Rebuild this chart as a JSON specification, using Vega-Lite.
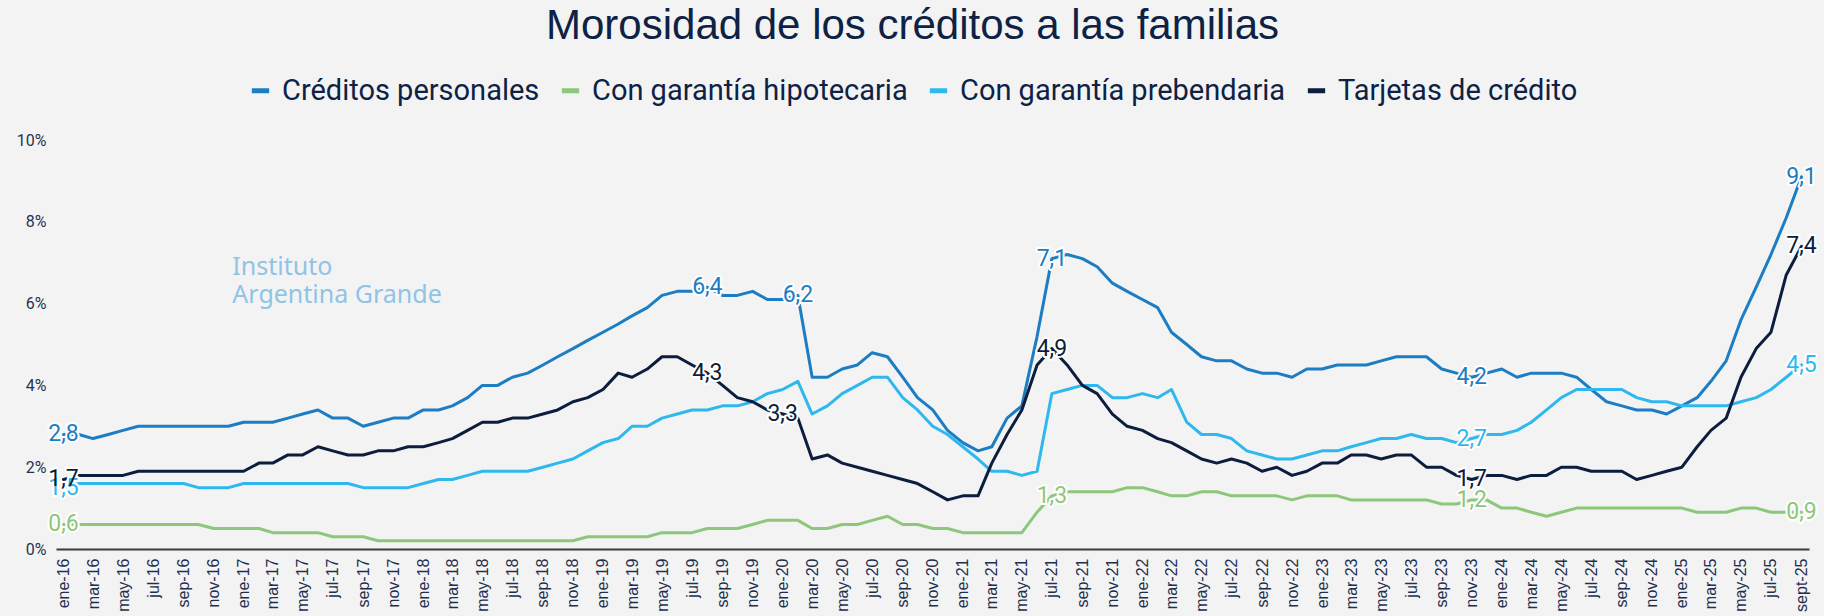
{
  "$schema": "https://vega.github.io/schema/vega-lite/v6.json",
  "width": 1753,
  "height": 409,
  "autosize": {"type": "none"},
  "padding": {"left": 56, "right": 15, "top": 140, "bottom": 67},
  "background": "#f3f3f3",
  "title": {
    "text": "Morosidad de los créditos a las familias",
    "font": "Liberation Sans",
    "fontSize": 42,
    "fontWeight": "normal",
    "color": "#0d2244",
    "anchor": "middle",
    "frame": "group",
    "dx": -20,
    "offset": 28
  },
  "config": {"view": {"stroke": null}},
  "datasets": {
    "serie": [
      {"m":"2016-01-01","p":2.8,"h":0.6,"r":1.5,"t":1.7},
      {"m":"2016-02-01","p":2.8,"h":0.6,"r":1.6,"t":1.8},
      {"m":"2016-03-01","p":2.7,"h":0.6,"r":1.6,"t":1.8},
      {"m":"2016-04-01","p":2.8,"h":0.6,"r":1.6,"t":1.8},
      {"m":"2016-05-01","p":2.9,"h":0.6,"r":1.6,"t":1.8},
      {"m":"2016-06-01","p":3.0,"h":0.6,"r":1.6,"t":1.9},
      {"m":"2016-07-01","p":3.0,"h":0.6,"r":1.6,"t":1.9},
      {"m":"2016-08-01","p":3.0,"h":0.6,"r":1.6,"t":1.9},
      {"m":"2016-09-01","p":3.0,"h":0.6,"r":1.6,"t":1.9},
      {"m":"2016-10-01","p":3.0,"h":0.6,"r":1.5,"t":1.9},
      {"m":"2016-11-01","p":3.0,"h":0.5,"r":1.5,"t":1.9},
      {"m":"2016-12-01","p":3.0,"h":0.5,"r":1.5,"t":1.9},
      {"m":"2017-01-01","p":3.1,"h":0.5,"r":1.6,"t":1.9},
      {"m":"2017-02-01","p":3.1,"h":0.5,"r":1.6,"t":2.1},
      {"m":"2017-03-01","p":3.1,"h":0.4,"r":1.6,"t":2.1},
      {"m":"2017-04-01","p":3.2,"h":0.4,"r":1.6,"t":2.3},
      {"m":"2017-05-01","p":3.3,"h":0.4,"r":1.6,"t":2.3},
      {"m":"2017-06-01","p":3.4,"h":0.4,"r":1.6,"t":2.5},
      {"m":"2017-07-01","p":3.2,"h":0.3,"r":1.6,"t":2.4},
      {"m":"2017-08-01","p":3.2,"h":0.3,"r":1.6,"t":2.3},
      {"m":"2017-09-01","p":3.0,"h":0.3,"r":1.5,"t":2.3},
      {"m":"2017-10-01","p":3.1,"h":0.2,"r":1.5,"t":2.4},
      {"m":"2017-11-01","p":3.2,"h":0.2,"r":1.5,"t":2.4},
      {"m":"2017-12-01","p":3.2,"h":0.2,"r":1.5,"t":2.5},
      {"m":"2018-01-01","p":3.4,"h":0.2,"r":1.6,"t":2.5},
      {"m":"2018-02-01","p":3.4,"h":0.2,"r":1.7,"t":2.6},
      {"m":"2018-03-01","p":3.5,"h":0.2,"r":1.7,"t":2.7},
      {"m":"2018-04-01","p":3.7,"h":0.2,"r":1.8,"t":2.9},
      {"m":"2018-05-01","p":4.0,"h":0.2,"r":1.9,"t":3.1},
      {"m":"2018-06-01","p":4.0,"h":0.2,"r":1.9,"t":3.1},
      {"m":"2018-07-01","p":4.2,"h":0.2,"r":1.9,"t":3.2},
      {"m":"2018-08-01","p":4.3,"h":0.2,"r":1.9,"t":3.2},
      {"m":"2018-09-01","p":4.5,"h":0.2,"r":2.0,"t":3.3},
      {"m":"2018-10-01","p":4.7,"h":0.2,"r":2.1,"t":3.4},
      {"m":"2018-11-01","p":4.9,"h":0.2,"r":2.2,"t":3.6},
      {"m":"2018-12-01","p":5.1,"h":0.3,"r":2.4,"t":3.7},
      {"m":"2019-01-01","p":5.3,"h":0.3,"r":2.6,"t":3.9},
      {"m":"2019-02-01","p":5.5,"h":0.3,"r":2.7,"t":4.3},
      {"m":"2019-03-01","p":5.7,"h":0.3,"r":3.0,"t":4.2},
      {"m":"2019-04-01","p":5.9,"h":0.3,"r":3.0,"t":4.4},
      {"m":"2019-05-01","p":6.2,"h":0.4,"r":3.2,"t":4.7},
      {"m":"2019-06-01","p":6.3,"h":0.4,"r":3.3,"t":4.7},
      {"m":"2019-07-01","p":6.3,"h":0.4,"r":3.4,"t":4.5},
      {"m":"2019-08-01","p":6.4,"h":0.5,"r":3.4,"t":4.3},
      {"m":"2019-09-01","p":6.2,"h":0.5,"r":3.5,"t":4.0},
      {"m":"2019-10-01","p":6.2,"h":0.5,"r":3.5,"t":3.7},
      {"m":"2019-11-01","p":6.3,"h":0.6,"r":3.6,"t":3.6},
      {"m":"2019-12-01","p":6.1,"h":0.7,"r":3.8,"t":3.4},
      {"m":"2020-01-01","p":6.1,"h":0.7,"r":3.9,"t":3.3},
      {"m":"2020-02-01","p":6.2,"h":0.7,"r":4.1,"t":3.2},
      {"m":"2020-03-01","p":4.2,"h":0.5,"r":3.3,"t":2.2},
      {"m":"2020-04-01","p":4.2,"h":0.5,"r":3.5,"t":2.3},
      {"m":"2020-05-01","p":4.4,"h":0.6,"r":3.8,"t":2.1},
      {"m":"2020-06-01","p":4.5,"h":0.6,"r":4.0,"t":2.0},
      {"m":"2020-07-01","p":4.8,"h":0.7,"r":4.2,"t":1.9},
      {"m":"2020-08-01","p":4.7,"h":0.8,"r":4.2,"t":1.8},
      {"m":"2020-09-01","p":4.2,"h":0.6,"r":3.7,"t":1.7},
      {"m":"2020-10-01","p":3.7,"h":0.6,"r":3.4,"t":1.6},
      {"m":"2020-11-01","p":3.4,"h":0.5,"r":3.0,"t":1.4},
      {"m":"2020-12-01","p":2.9,"h":0.5,"r":2.8,"t":1.2},
      {"m":"2021-01-01","p":2.6,"h":0.4,"r":2.5,"t":1.3},
      {"m":"2021-02-01","p":2.4,"h":0.4,"r":2.2,"t":1.3},
      {"m":"2021-03-01","p":2.5,"h":0.4,"r":1.9,"t":2.1},
      {"m":"2021-04-01","p":3.2,"h":0.4,"r":1.9,"t":2.8},
      {"m":"2021-05-01","p":3.5,"h":0.4,"r":1.8,"t":3.4},
      {"m":"2021-06-01","p":5.2,"h":0.9,"r":1.9,"t":4.5},
      {"m":"2021-07-01","p":7.1,"h":1.3,"r":3.8,"t":4.9},
      {"m":"2021-08-01","p":7.2,"h":1.4,"r":3.9,"t":4.5},
      {"m":"2021-09-01","p":7.1,"h":1.4,"r":4.0,"t":4.0},
      {"m":"2021-10-01","p":6.9,"h":1.4,"r":4.0,"t":3.8},
      {"m":"2021-11-01","p":6.5,"h":1.4,"r":3.7,"t":3.3},
      {"m":"2021-12-01","p":6.3,"h":1.5,"r":3.7,"t":3.0},
      {"m":"2022-01-01","p":6.1,"h":1.5,"r":3.8,"t":2.9},
      {"m":"2022-02-01","p":5.9,"h":1.4,"r":3.7,"t":2.7},
      {"m":"2022-03-01","p":5.3,"h":1.3,"r":3.9,"t":2.6},
      {"m":"2022-04-01","p":5.0,"h":1.3,"r":3.1,"t":2.4},
      {"m":"2022-05-01","p":4.7,"h":1.4,"r":2.8,"t":2.2},
      {"m":"2022-06-01","p":4.6,"h":1.4,"r":2.8,"t":2.1},
      {"m":"2022-07-01","p":4.6,"h":1.3,"r":2.7,"t":2.2},
      {"m":"2022-08-01","p":4.4,"h":1.3,"r":2.4,"t":2.1},
      {"m":"2022-09-01","p":4.3,"h":1.3,"r":2.3,"t":1.9},
      {"m":"2022-10-01","p":4.3,"h":1.3,"r":2.2,"t":2.0},
      {"m":"2022-11-01","p":4.2,"h":1.2,"r":2.2,"t":1.8},
      {"m":"2022-12-01","p":4.4,"h":1.3,"r":2.3,"t":1.9},
      {"m":"2023-01-01","p":4.4,"h":1.3,"r":2.4,"t":2.1},
      {"m":"2023-02-01","p":4.5,"h":1.3,"r":2.4,"t":2.1},
      {"m":"2023-03-01","p":4.5,"h":1.2,"r":2.5,"t":2.3},
      {"m":"2023-04-01","p":4.5,"h":1.2,"r":2.6,"t":2.3},
      {"m":"2023-05-01","p":4.6,"h":1.2,"r":2.7,"t":2.2},
      {"m":"2023-06-01","p":4.7,"h":1.2,"r":2.7,"t":2.3},
      {"m":"2023-07-01","p":4.7,"h":1.2,"r":2.8,"t":2.3},
      {"m":"2023-08-01","p":4.7,"h":1.2,"r":2.7,"t":2.0},
      {"m":"2023-09-01","p":4.4,"h":1.1,"r":2.7,"t":2.0},
      {"m":"2023-10-01","p":4.3,"h":1.1,"r":2.6,"t":1.8},
      {"m":"2023-11-01","p":4.2,"h":1.2,"r":2.7,"t":1.7},
      {"m":"2023-12-01","p":4.3,"h":1.2,"r":2.8,"t":1.8},
      {"m":"2024-01-01","p":4.4,"h":1.0,"r":2.8,"t":1.8},
      {"m":"2024-02-01","p":4.2,"h":1.0,"r":2.9,"t":1.7},
      {"m":"2024-03-01","p":4.3,"h":0.9,"r":3.1,"t":1.8},
      {"m":"2024-04-01","p":4.3,"h":0.8,"r":3.4,"t":1.8},
      {"m":"2024-05-01","p":4.3,"h":0.9,"r":3.7,"t":2.0},
      {"m":"2024-06-01","p":4.2,"h":1.0,"r":3.9,"t":2.0},
      {"m":"2024-07-01","p":3.9,"h":1.0,"r":3.9,"t":1.9},
      {"m":"2024-08-01","p":3.6,"h":1.0,"r":3.9,"t":1.9},
      {"m":"2024-09-01","p":3.5,"h":1.0,"r":3.9,"t":1.9},
      {"m":"2024-10-01","p":3.4,"h":1.0,"r":3.7,"t":1.7},
      {"m":"2024-11-01","p":3.4,"h":1.0,"r":3.6,"t":1.8},
      {"m":"2024-12-01","p":3.3,"h":1.0,"r":3.6,"t":1.9},
      {"m":"2025-01-01","p":3.5,"h":1.0,"r":3.5,"t":2.0},
      {"m":"2025-02-01","p":3.7,"h":0.9,"r":3.5,"t":2.5},
      {"m":"2025-03-01","p":4.1,"h":0.9,"r":3.5,"t":2.9},
      {"m":"2025-04-01","p":4.6,"h":0.9,"r":3.5,"t":3.2},
      {"m":"2025-05-01","p":5.6,"h":1.0,"r":3.6,"t":4.2},
      {"m":"2025-06-01","p":6.4,"h":1.0,"r":3.7,"t":4.9},
      {"m":"2025-07-01","p":7.2,"h":0.9,"r":3.9,"t":5.3},
      {"m":"2025-08-01","p":8.1,"h":0.9,"r":4.2,"t":6.7},
      {"m":"2025-09-01","p":9.1,"h":0.9,"r":4.5,"t":7.4}
    ],
    "etiquetas": [
      {"m":"2016-01-01","s":"Créditos personales","v":2.8,"t":"2,8"},
      {"m":"2016-01-01","s":"Con garantía hipotecaria","v":0.6,"t":"0,6"},
      {"m":"2016-01-01","s":"Con garantía prebendaria","v":1.5,"t":"1,5"},
      {"m":"2016-01-01","s":"Tarjetas de crédito","v":1.7,"t":"1,7"},
      {"m":"2019-08-01","s":"Créditos personales","v":6.4,"t":"6,4"},
      {"m":"2019-08-01","s":"Tarjetas de crédito","v":4.3,"t":"4,3"},
      {"m":"2020-01-01","s":"Tarjetas de crédito","v":3.3,"t":"3,3"},
      {"m":"2020-02-01","s":"Créditos personales","v":6.2,"t":"6,2"},
      {"m":"2021-07-01","s":"Créditos personales","v":7.1,"t":"7,1"},
      {"m":"2021-07-01","s":"Tarjetas de crédito","v":4.9,"t":"4,9"},
      {"m":"2021-07-01","s":"Con garantía hipotecaria","v":1.3,"t":"1,3"},
      {"m":"2023-11-01","s":"Créditos personales","v":4.2,"t":"4,2"},
      {"m":"2023-11-01","s":"Con garantía prebendaria","v":2.7,"t":"2,7"},
      {"m":"2023-11-01","s":"Tarjetas de crédito","v":1.7,"t":"1,7"},
      {"m":"2023-11-01","s":"Con garantía hipotecaria","v":1.2,"t":"1,2"},
      {"m":"2025-09-01","s":"Créditos personales","v":9.1,"t":"9,1"},
      {"m":"2025-09-01","s":"Tarjetas de crédito","v":7.4,"t":"7,4"},
      {"m":"2025-09-01","s":"Con garantía prebendaria","v":4.5,"t":"4,5"},
      {"m":"2025-09-01","s":"Con garantía hipotecaria","v":0.9,"t":"0,9"}
    ]
  },
  "layer": [
    {
      "data": {"values": [{}]},
      "mark": {"type": "text", "text": ["Instituto", "Argentina Grande"], "lineHeight": 28, "align": "left", "baseline": "alphabetic", "font": "Noto Sans", "fontSize": 25, "color": "#8ec4e6"},
      "encoding": {
        "x": {"datum": {"year": 2016, "month": 12, "date": 9, "utc": true}, "type": "temporal"},
        "y": {"datum": 6.71, "type": "quantitative"}
      }
    },
    {
      "data": {"name": "serie"},
      "transform": [
        {"fold": ["p", "h", "r", "t"], "as": ["k", "v"]},
        {"calculate": "datum.k == 'p' ? 'Créditos personales' : datum.k == 'h' ? 'Con garantía hipotecaria' : datum.k == 'r' ? 'Con garantía prebendaria' : 'Tarjetas de crédito'", "as": "s"}
      ],
      "mark": {"type": "line", "strokeWidth": 3, "strokeJoin": "round", "strokeCap": "round"},
      "encoding": {
        "x": {
          "field": "m", "type": "temporal",
          "scale": {"type": "utc", "domain": [{"year": 2015, "month": 12, "date": 16, "hours": 18, "utc": true}, {"year": 2025, "month": 9, "date": 16, "hours": 6, "utc": true}], "nice": false},
          "axis": {
            "title": null,
            "tickCount": {"interval": "month", "step": 2},
            "labelExpr": "(utcyear(datum.value) == 2025 && utcmonth(datum.value) == 8 ? 'sept' : ['ene','feb','mar','abr','may','jun','jul','ago','sep','oct','nov','dic'][utcmonth(datum.value)]) + '-' + utcFormat(datum.value, '%y')",
            "labelAngle": -90,
            "labelAlign": "right",
            "labelBaseline": "middle",
            "labelPadding": 9,
            "labelFont": "Liberation Sans",
            "labelFontSize": 16,
            "labelColor": "#1f2f4f",
            "labelOverlap": false,
            "labelFlush": false,
            "ticks": false,
            "grid": false,
            "domain": true,
            "domainColor": "#3c3c3c",
            "domainWidth": 2
          }
        },
        "y": {
          "field": "v", "type": "quantitative",
          "scale": {"domain": [0, 10], "nice": false},
          "axis": {
            "title": null,
            "values": [0, 2, 4, 6, 8, 10],
            "labelExpr": "datum.value + '%'",
            "domain": false,
            "ticks": false,
            "labelFont": "Roboto",
            "labelFontSize": 16,
            "labelColor": "#263352",
            "labelPadding": 10,
            "gridColor": {"condition": {"test": "datum.value == 10", "value": "#d9d9d9"}, "value": "#c3c3c3"},
            "gridWidth": 2
          }
        },
        "color": {
          "field": "s", "type": "nominal",
          "scale": {
            "domain": ["Créditos personales", "Con garantía hipotecaria", "Con garantía prebendaria", "Tarjetas de crédito"],
            "range": ["#1c7dc3", "#8dc77b", "#2fb8ee", "#0c1d3d"]
          },
          "legend": {
            "title": null,
            "orient": "none",
            "legendX": 190,
            "legendY": -64,
            "direction": "horizontal",
            "columns": 4,
            "symbolType": "stroke",
            "symbolStrokeWidth": 5,
            "symbolSize": 300,
            "labelFont": "Roboto",
            "labelFontSize": 29,
            "labelColor": "#0d2244",
            "labelLimit": 600,
            "labelOffset": 7,
            "columnPadding": 11,
            "padding": 0
          }
        }
      }
    },
    {
      "data": {"name": "etiquetas"},
      "mark": {"type": "text", "align": "center", "baseline": "middle", "font": "Roboto", "fontSize": 23, "stroke": "#ffffff", "strokeWidth": 4, "strokeJoin": "round", "fill": "#ffffff"},
      "encoding": {
        "x": {"field": "m", "type": "temporal"},
        "y": {"field": "v", "type": "quantitative"},
        "text": {"field": "t"}
      }
    },
    {
      "data": {"name": "etiquetas"},
      "mark": {"type": "text", "align": "center", "baseline": "middle", "font": "Roboto", "fontSize": 23},
      "encoding": {
        "x": {"field": "m", "type": "temporal"},
        "y": {"field": "v", "type": "quantitative"},
        "text": {"field": "t"},
        "color": {"field": "s", "type": "nominal", "legend": null}
      }
    }
  ]
}
